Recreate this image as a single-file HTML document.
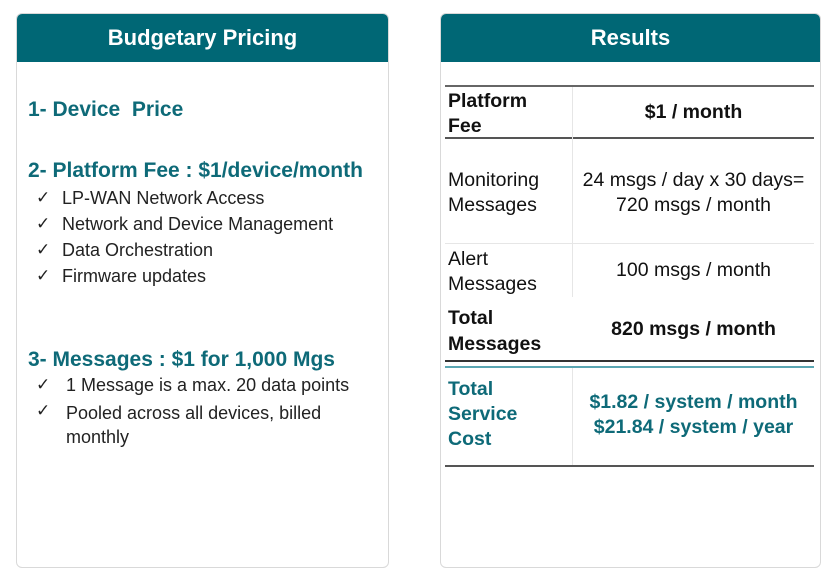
<!DOCTYPE html>
<html><head><style>
body{margin:0;width:831px;height:579px;background:#fff;position:relative;font-family:"Liberation Sans",sans-serif;overflow:hidden}
.card{position:absolute;top:13px;border:1px solid #d9d9d9;border-radius:6px;overflow:hidden;box-sizing:border-box;height:555px}
.hd{height:48px;background:#006775;color:#fff;font-weight:bold;font-size:22px;text-align:center;line-height:48px}
.a{position:absolute;white-space:nowrap}
.t{color:#0e6a78;font-weight:bold;font-size:21px}
.b{font-size:18px;color:#222}
.ck{position:absolute;left:36px;font-size:17px;color:#222}
.tb{font-size:19.5px;color:#111}
.hl{position:absolute;left:445px;width:369px}
</style></head><body>
<div class="card" style="left:16px;width:373px"><div class="hd">Budgetary Pricing</div></div>
<div class="card" style="left:440px;width:381px"><div class="hd">Results</div></div>

<div class="a t" style="left:28px;top:98px">1- Device&nbsp; Price</div>
<div class="a t" style="left:28px;top:159px">2- Platform Fee : $1/device/month</div>
<div class="ck" style="top:188px">✓</div><div class="a b" style="left:62px;top:188px">LP-WAN Network Access</div>
<div class="ck" style="top:214px">✓</div><div class="a b" style="left:62px;top:214px">Network and Device Management</div>
<div class="ck" style="top:240px">✓</div><div class="a b" style="left:62px;top:240px">Data Orchestration</div>
<div class="ck" style="top:266px">✓</div><div class="a b" style="left:62px;top:266px">Firmware updates</div>
<div class="a t" style="left:28px;top:348px">3- Messages : $1 for 1,000 Mgs</div>
<div class="ck" style="top:375px">✓</div><div class="a b" style="left:66px;top:375px">1 Message is a max. 20 data points</div>
<div class="ck" style="top:401px">✓</div><div class="a b" style="left:66px;top:401px;line-height:24px">Pooled across all devices, billed<br>monthly</div>

<div class="hl" style="top:85px;height:2px;background:#666"></div>
<div class="hl" style="top:137px;height:2px;background:#555"></div>
<div class="hl" style="top:243px;height:1px;background:#e6e6e6"></div>
<div class="hl" style="top:360px;height:2px;background:#333"></div>
<div class="hl" style="top:366px;height:2px;background:#5aa6b2"></div>
<div class="hl" style="top:465px;height:2px;background:#555"></div>
<div class="a" style="left:572px;top:87px;width:1px;height:210px;background:#e6e6e6"></div>
<div class="a" style="left:572px;top:368px;width:1px;height:97px;background:#e6e6e6"></div>

<div class="a tb" style="left:448px;top:89px;font-weight:bold;line-height:25px">Platform<br>Fee</div>
<div class="a tb" style="left:573px;width:241px;text-align:center;top:101px;font-weight:bold">$1 / month</div>
<div class="a tb" style="left:448px;top:168px;line-height:25px">Monitoring<br>Messages</div>
<div class="a tb" style="left:573px;width:241px;text-align:center;top:168px;line-height:25px">24 msgs / day x 30 days=<br>720 msgs / month</div>
<div class="a tb" style="left:448px;top:247px;line-height:25px">Alert<br>Messages</div>
<div class="a tb" style="left:573px;width:241px;text-align:center;top:259px">100 msgs / month</div>
<div class="a tb" style="left:448px;top:305px;line-height:26px;font-weight:bold">Total<br>Messages</div>
<div class="a tb" style="left:573px;width:241px;text-align:center;top:318px;font-weight:bold">820 msgs / month</div>
<div class="a tb" style="left:448px;top:377px;line-height:25px;font-weight:bold;color:#0e6a78">Total<br>Service<br>Cost</div>
<div class="a tb" style="left:573px;width:241px;text-align:center;top:390px;line-height:25px;font-weight:bold;color:#0e6a78">$1.82 / system / month<br>$21.84 / system / year</div>
</body></html>
